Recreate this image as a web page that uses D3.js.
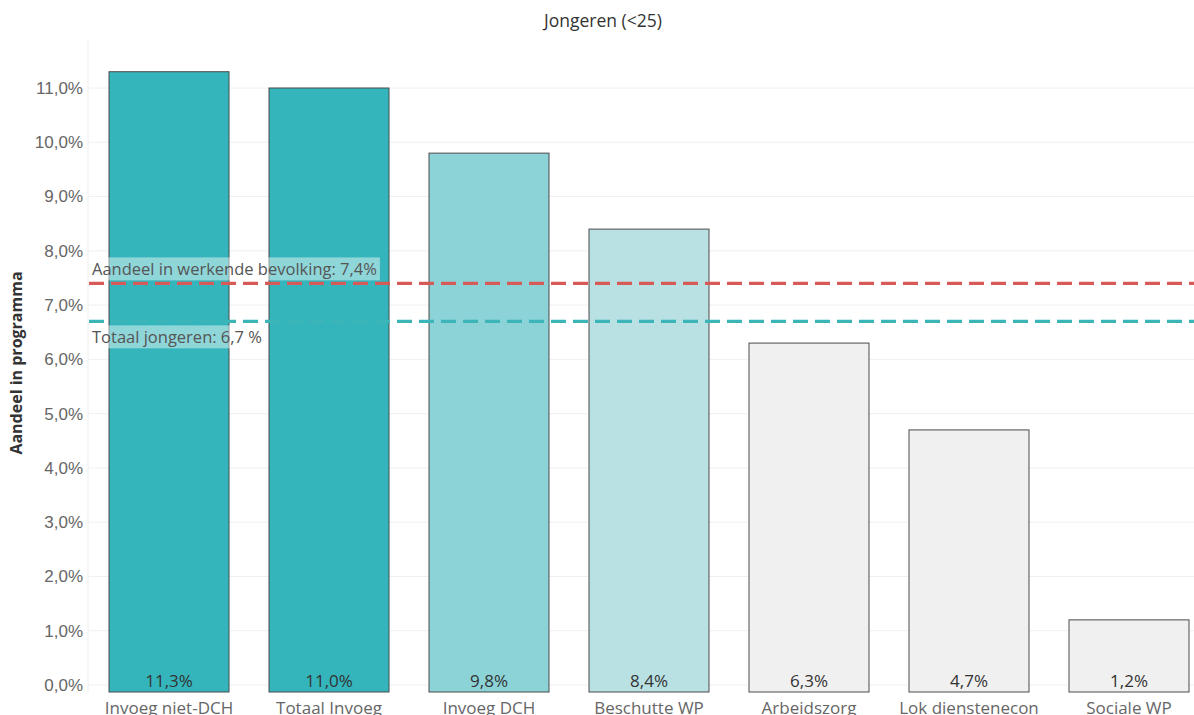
<!DOCTYPE html>
<head>
<style>
    body { margin: 0; background: #fff; font-family: "Open Sans", Lato, Arial; }
    .grid line { stroke: #f0f0f0; }
    .axis text { fill: #666; font-size: 17px; }
    .barlabel { fill: #333; font-size: 17px; }
    .reflabel { fill: #555; font-size: 16.5px; }
</style>
</head>
<body>
<script src="https://d3js.org/d3.v7.min.js"></script>
<script>
var categories = ["Invoeg niet-DCH", "Totaal Invoeg", "Invoeg DCH", "Beschutte WP", "Arbeidszorg", "Lok dienstenecon", "Sociale WP"];
var values = [11.3, 11.0, 9.8, 8.4, 6.3, 4.7, 1.2];
var barColors = ["#33b5bb", "#33b5bb", "#8bd3d6", "#b9e1e3", "#f0f0f0", "#f0f0f0", "#f0f0f0"];
var yTicks = [0, 1, 2, 3, 4, 5, 6, 7, 8, 9, 10, 11];
var refLines = [
    {value: 7.4, label: "Aandeel in werkende bevolking: 7,4%", color: "#d65a57", above: true},
    {value: 6.7, label: "Totaal jongeren: 6,7 %", color: "#3bb5b8", above: false}
];

var width = 1194, height = 715;
var plotLeft = 89, plotTop = 40, plotBottom = 692;

var svg = d3.select("body").append("svg")
    .attr("width", width)
    .attr("height", height);

var x = d3.scaleBand()
    .domain(categories)
    .range([plotLeft, plotLeft + 160 * categories.length])
    .paddingInner(0.25)
    .paddingOuter(0.125);

var y = d3.scaleLinear()
    .domain([0, 11])
    .range([685, 88]);

var fmt = function(v) { return d3.format(".1f")(v).replace(".", ",") + "%"; };

// grid
svg.append("g").attr("class", "grid")
    .selectAll("line").data(yTicks).enter().append("line")
    .attr("x1", plotLeft).attr("x2", width)
    .attr("y1", function(d) { return y(d); })
    .attr("y2", function(d) { return y(d); });
svg.append("line")
    .attr("x1", plotLeft - 1).attr("x2", plotLeft - 1)
    .attr("y1", plotTop).attr("y2", plotBottom)
    .attr("stroke", "#eeeeee");

// y axis
var yAxis = svg.append("g").attr("class", "axis")
    .attr("transform", "translate(" + (plotLeft - 6) + ",0)")
    .call(d3.axisLeft(y).tickValues(yTicks).tickSize(0).tickPadding(0)
        .tickFormat(function(d) { return d3.format(".1f")(d).replace(".", ",") + "%"; }));
yAxis.select(".domain").remove();

svg.append("text")
    .attr("transform", "translate(22," + 363 + ") rotate(-90)")
    .attr("text-anchor", "middle")
    .attr("font-size", 16)
    .attr("font-weight", "bold")
    .attr("fill", "#333")
    .text("Aandeel in programma");

// title
svg.append("text")
    .attr("x", 603).attr("y", 27)
    .attr("text-anchor", "middle")
    .attr("font-size", 17.5)
    .attr("fill", "#333")
    .text("Jongeren (<25)");

// bars
svg.append("g").selectAll("rect")
    .data(values).enter().append("rect")
    .attr("x", function(d, i) { return x(categories[i]); })
    .attr("y", function(d) { return y(d); })
    .attr("width", x.bandwidth())
    .attr("height", function(d) { return plotBottom - y(d); })
    .attr("fill", function(d, i) { return barColors[i]; })
    .attr("stroke", "#4a4a4a")
    .attr("stroke-width", 1);

svg.append("g").selectAll("text")
    .data(values).enter().append("text")
    .attr("class", "barlabel")
    .attr("x", function(d, i) { return x(categories[i]) + x.bandwidth() / 2; })
    .attr("y", 687)
    .attr("text-anchor", "middle")
    .text(function(d) { return fmt(d); });

// category labels (cut off at the bottom edge, as in the source)
svg.append("g").attr("class", "axis")
    .selectAll("text").data(categories).enter().append("text")
    .attr("x", function(d) { return x(d) + x.bandwidth() / 2; })
    .attr("y", 714)
    .attr("text-anchor", "middle")
    .text(function(d) { return d; });

// reference lines
refLines.forEach(function(r) {
    svg.append("line")
        .attr("x1", plotLeft).attr("x2", width)
        .attr("y1", y(r.value)).attr("y2", y(r.value))
        .attr("stroke", r.color)
        .attr("stroke-width", 3.2)
        .attr("stroke-dasharray", "15 7");
    var g = svg.append("g");
    var ty = r.above ? y(r.value) - 8 : y(r.value) + 22;
    var t = g.append("text")
        .attr("class", "reflabel")
        .attr("x", 92).attr("y", ty)
        .text(r.label);
    var bb = t.node().getBBox();
    g.insert("rect", "text")
        .attr("x", bb.x - 3).attr("y", bb.y)
        .attr("width", bb.width + 6).attr("height", bb.height)
        .attr("fill", "#fff").attr("fill-opacity", 0.45);
});
</script>
</body>
